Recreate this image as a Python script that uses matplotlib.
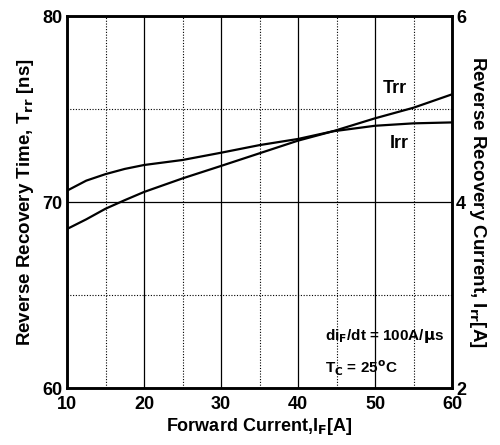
import matplotlib.pyplot as plt
import numpy as np

plt.rcParams['font.family'] = ['Liberation Sans', 'DejaVu Sans']
plt.rcParams['font.weight'] = 'bold'
plt.rcParams['mathtext.default'] = 'bf'

# Forward current (A)
i_f = [10, 12.5, 15, 17.5, 20, 25, 30, 35, 40, 44.5, 50, 55, 60]
# Reverse recovery time Trr (ns) - left axis
trr = [68.55, 69.07, 69.64, 70.1, 70.54, 71.27, 71.94, 72.62, 73.3, 73.8, 74.5, 75.07, 75.79]
# Reverse recovery current Irr (A) - right axis
irr = [4.122, 4.23, 4.30, 4.356, 4.398, 4.452, 4.53, 4.612, 4.678, 4.76, 4.82, 4.846, 4.856]

xticks = [10, 20, 30, 40, 50, 60]
yticks_left = [60, 70, 80]
yticks_right = [2, 4, 6]


def main():
    fig = plt.figure(figsize=(5.0, 4.45), dpi=100)
    ax = fig.add_axes([0.134, 0.128, 0.770, 0.836])
    ax2 = ax.twinx()

    ax.plot(i_f, trr, color='black', lw=1.6)
    ax2.plot(i_f, irr, color='black', lw=1.6)

    ax.set_xlim(10, 60)
    ax.set_ylim(60, 80)
    ax2.set_ylim(2, 6)

    ax.set_xticks(xticks)
    ax.set_xticks(np.arange(15, 60, 10), minor=True)
    ax.set_yticks(yticks_left)
    ax.set_yticks([65, 75], minor=True)
    ax2.set_yticks(yticks_right)

    ax.grid(True, which='major', color='black', lw=0.9)
    ax.grid(True, which='minor', color='black', lw=0.8, linestyle=(0, (1, 1.5)))
    ax.tick_params(which='both', length=0, labelsize=13, pad=3)
    ax.tick_params(axis='x', pad=6)
    ax2.tick_params(which='both', length=0, labelsize=13, pad=3)
    for a in (ax, ax2):
        for sp in a.spines.values():
            sp.set_linewidth(1.8)
        for lab in a.get_xticklabels() + a.get_yticklabels():
            lab.set_fontweight('bold')

    ax.set_xlabel(r'Forward Current,I$_F$[A]', fontsize=13, fontweight='bold', labelpad=2)
    ax.set_ylabel(r'Reverse Recovery Time, T$_{rr}$ [ns]', fontsize=13.5,
                  fontweight='bold', labelpad=5)
    ax2.set_ylabel(r'Reverse Recovery Current, I$_{rr}$[A]', fontsize=13.5,
                   fontweight='bold', rotation=-90, labelpad=16)

    # curve labels
    ax.text(51.0, 75.86, 'Trr', fontsize=13, fontweight='bold', ha='left', va='baseline')
    ax.text(51.95, 72.9, 'Irr', fontsize=13, fontweight='bold', ha='left', va='baseline')

    ax.text(43.5, 62.58, r'di$_F$/dt = 100A/$\mu$s', fontsize=11, fontweight='bold',
            ha='left', va='baseline')
    ax.text(43.5, 60.8, r'T$_C$ = 25$^o$C', fontsize=11, fontweight='bold',
            ha='left', va='baseline')

    fig.savefig('out.png', dpi=100)


if __name__ == "__main__":
    main()
